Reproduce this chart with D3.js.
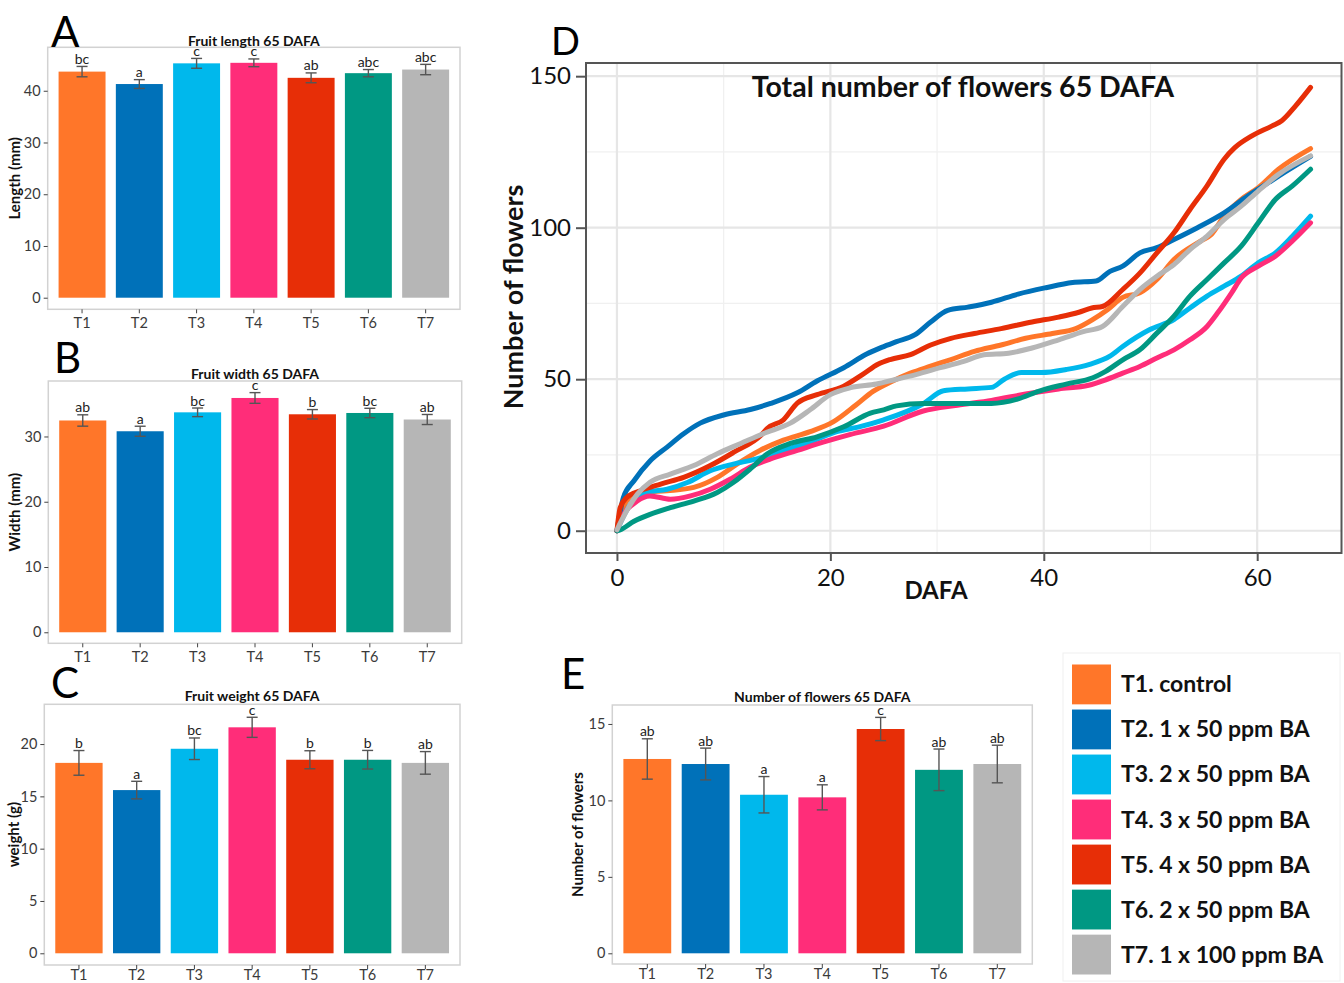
<!DOCTYPE html>
<html>
<head>
<meta charset="utf-8">
<script src="https://cdn.jsdelivr.net/npm/d3@7/dist/d3.min.js"></script>
<style>
  html, body { margin: 0; padding: 0; background: #fff; }
  svg { display: block; font-family: Lato, "Open Sans", sans-serif; }
</style>
</head>
<body>
<svg id="fig" width="1344" height="983"></svg>
<script>
// ---------------- DATA ----------------
const treatments = ["T1", "T2", "T3", "T4", "T5", "T6", "T7"];
const legendLabels = ["T1. control", "T2. 1 x 50 ppm BA", "T3. 2 x 50 ppm BA", "T4. 3 x 50 ppm BA",
                      "T5. 4 x 50 ppm BA", "T6. 2 x 50 ppm BA", "T7. 1 x 100 ppm BA"];
const colors = ["#FF7629", "#0071B9", "#00B8EC", "#FF2D79", "#E72E07", "#009883", "#B6B6B6"];

const lengthMean = [43.7, 41.3, 45.3, 45.4, 42.5, 43.4, 44.1];
const lengthErr = [1.0, 0.85, 0.95, 0.75, 0.95, 0.7, 1.0];
const lengthLetters = ["bc", "a", "c", "c", "ab", "abc", "abc"];
const lengthTicks = [0, 10, 20, 30, 40];

const widthMean = [32.45, 30.8, 33.7, 35.9, 33.4, 33.6, 32.6];
const widthErr = [0.87, 0.77, 0.66, 0.82, 0.72, 0.72, 0.77];
const widthLetters = ["ab", "a", "bc", "c", "b", "bc", "ab"];
const widthTicks = [0, 10, 20, 30];

const weightMean = [18.2, 15.6, 19.55, 21.6, 18.5, 18.5, 18.2];
const weightErr = [1.18, 0.84, 1.03, 0.96, 0.86, 0.89, 1.08];
const weightLetters = ["b", "a", "bc", "c", "b", "b", "ab"];
const weightTicks = [0, 5, 10, 15, 20];

const flowersMean = [12.71, 12.38, 10.37, 10.2, 14.67, 12.0, 12.38];
const flowersErr = [1.32, 1.04, 1.19, 0.82, 0.76, 1.36, 1.23];
const flowersLetters = ["ab", "ab", "a", "a", "c", "ab", "ab"];
const flowersTicks = [0, 5, 10, 15];

const dafaTicks = [0, 20, 40, 60];
const totalTicks = [0, 50, 100, 150];

// cumulative number of flowers vs DAFA  [DAFA, flowers]
const cumT1 = [[0,0],[0.3,3],[0.9,9.8],[2.5,12.6],[4.7,13.2],[7.2,14.3],[9.4,17.6],[11.25,22],[13.4,26.5],[15.6,29.9],[18.1,32.7],[20.3,36],[22.4,41.5],[24,46],[25.6,49],[27.5,52],[29.4,54.3],[31.3,56.5],[33.5,59.2],[36,61.3],[38.3,63.5],[40.8,65.1],[43,66.7],[44.5,69.5],[46,73],[47.4,77],[49,78.5],[50.6,82.9],[52.2,89.5],[54.7,95.6],[55.7,97.8],[56.9,103.8],[58.5,109.3],[60.1,113.2],[62,119.3],[65,126.1]];
const cumT2 = [[0,0],[0.6,10.9],[1.6,16.5],[3.1,23],[4.7,27.6],[6.25,32],[7.8,35.5],[10,38.2],[12.5,40],[14.4,42],[16.9,45.5],[18.75,49.4],[21.25,53.8],[23.4,58.3],[24.8,60.5],[26.2,62.4],[27.9,64.6],[29.4,68.9],[31,72.7],[32.9,73.8],[35.1,75.4],[37.6,78.1],[40.2,80.2],[42.7,81.9],[44.9,82.4],[46.2,85.6],[47.4,87.3],[49,91.7],[50.6,93.4],[52.2,96.1],[54.4,100],[56.9,104.9],[59.1,110.4],[60.1,112.7],[62,117],[65,123.5]];
const cumT3 = [[0,0],[0.5,4],[1.25,8.7],[2.8,12.6],[4.7,13.7],[6.6,15.9],[8.75,19.8],[10.9,22],[13.1,23.7],[15.6,26.5],[18.1,29.3],[20.6,32.7],[22.6,34.2],[25,36.6],[28.7,41.9],[30.6,46.2],[32.9,46.8],[35.1,47.3],[36.3,50],[37.9,52.2],[39.8,52.2],[42.1,53.2],[44.3,54.9],[46.2,57.6],[47.4,60.8],[49.9,66.3],[52.2,69.7],[53.7,73.5],[55.3,77.4],[56.9,80.7],[58.5,84],[60.1,88.4],[61.7,91.7],[63.3,97.2],[65,103.8]];
const cumT4 = [[0,0],[0.3,3],[1.9,9.8],[3.1,11.5],[5,10.4],[6.9,11.5],[8.75,13.7],[10.6,17],[12.5,21],[14.4,23.7],[16.9,26.5],[19.4,29.3],[21.9,31.8],[25,34.5],[28.7,39.5],[31.9,41.4],[35.1,43],[38.3,45.1],[41.4,46.8],[44.2,48],[45.8,49.8],[47.4,52],[49,54.2],[50.6,57],[52.2,59.7],[53.7,63],[55.3,67.4],[56.3,71.9],[57.6,78.5],[58.5,83.4],[60.1,87.3],[61.7,90.6],[63.3,95.6],[65,101.6]];
const cumT5 = [[0,0],[0.3,7.6],[0.9,10.9],[2.2,13.2],[4.1,15.4],[6.25,17.6],[8.75,21.5],[11,26],[13.5,31.5],[14.1,33.8],[15.6,36.6],[16.9,42.1],[18.75,44.9],[21.25,47.7],[23,51.5],[24.5,55],[25.6,56.5],[27.5,58.1],[29.4,61.3],[31.3,63.5],[33.5,65.1],[36,66.7],[38.9,68.9],[41.4,70.5],[43.3,72.1],[44.5,73.5],[45.5,74],[47.4,79.6],[49,85],[50.6,91.7],[52.2,98.3],[53.7,106],[55.3,113.8],[56.9,122.6],[57.9,126.4],[59.5,130.3],[61.4,133.6],[62.3,135.3],[63.6,140.2],[65,146.3]];
const cumT6 = [[0,0],[0.3,0.3],[1.6,3.1],[3.1,5.4],[5,7.6],[7.2,9.8],[9.4,12.6],[10.9,15.9],[12.5,20.4],[14.1,25.4],[16.25,28.8],[18.75,31],[21.25,34.3],[23.75,38.8],[25,39.9],[26.2,41.2],[28.7,42],[31.3,42],[33.5,42],[35.1,42],[37.6,43.5],[39.5,46],[42.1,48.4],[44.6,50.5],[45.8,52.6],[47.4,56.4],[49,59.7],[50.6,65.2],[52.2,70.8],[53.7,77.4],[55.3,82.9],[56.9,88.4],[58.5,93.9],[60.1,101.6],[61.7,109.3],[63.3,113.8],[65,119.3]];
const cumT7 = [[0,0.3],[0.9,6.5],[1.9,12],[3.1,16],[5,18.7],[7.2,21.5],[9.4,25.4],[11.6,28.8],[13.75,32.1],[16.25,35.5],[18.1,39.9],[20,44.9],[21.9,47.2],[24.3,48.4],[26.2,50],[28.1,51.6],[30.3,53.8],[32.5,55.9],[34.4,58.1],[36.7,58.6],[38.9,60.3],[41.4,63],[43.7,65.7],[45.5,67.4],[47.4,74],[49,79.6],[50.6,84],[52.2,87.8],[53.7,92.8],[55.3,97.2],[56.9,102.7],[58.5,107.1],[60.1,112.1],[62,117.6],[65,123.7]];
const cumSeries = [cumT1, cumT2, cumT3, cumT4, cumT5, cumT6, cumT7];

// ---------------- DRAW ----------------
const svg = d3.select("#fig");

function barPanel(cfg) {
  const g = svg.append("g");
  const x = d3.scaleBand().domain(treatments).range([cfg.left, cfg.right])
    .paddingInner(0.18).paddingOuter(0.19);
  const y = d3.scaleLinear().domain(cfg.yDomain).range([cfg.bottom, cfg.top]);

  // panel border
  g.append("rect").attr("x", cfg.left).attr("y", cfg.top)
    .attr("width", cfg.right - cfg.left).attr("height", cfg.bottom - cfg.top)
    .attr("fill", "none").attr("stroke", "#d2d2d2").attr("stroke-width", 1.5);

  // bars
  g.selectAll("rect.bar").data(cfg.values).join("rect").attr("class", "bar")
    .attr("x", (d, i) => x(treatments[i]))
    .attr("width", x.bandwidth())
    .attr("y", d => y(d))
    .attr("height", d => y(0) - y(d))
    .attr("fill", (d, i) => colors[i]);

  // error bars
  const cap = 5.5;
  cfg.values.forEach((v, i) => {
    const cx = x(treatments[i]) + x.bandwidth() / 2;
    const y1 = y(v + cfg.errors[i]), y0 = y(v - cfg.errors[i]);
    g.append("line").attr("x1", cx).attr("x2", cx).attr("y1", y1).attr("y2", y0)
      .attr("stroke", "#555").attr("stroke-width", 1.4);
    [y1, y0].forEach(yy => g.append("line").attr("x1", cx - cap).attr("x2", cx + cap)
      .attr("y1", yy).attr("y2", yy).attr("stroke", "#555").attr("stroke-width", 1.4));
    g.append("text").attr("x", cx).attr("y", y1 - 2.5).attr("text-anchor", "middle")
      .attr("font-size", 14).attr("fill", "#222").text(cfg.letters[i]);
  });

  // y axis
  const ya = d3.axisLeft(y).tickValues(cfg.ticks).tickSize(4).tickPadding(3);
  const yg = g.append("g").attr("transform", `translate(${cfg.left},0)`).call(ya);
  yg.select(".domain").remove();
  yg.selectAll("line").attr("stroke", "#444");
  yg.selectAll("text").attr("font-size", 14.5).attr("fill", "#3a3a3a").attr("font-family", "Lato, sans-serif");

  // x axis
  const xa = d3.axisBottom(x).tickSize(4).tickPadding(cfg.xPad);
  const xg = g.append("g").attr("transform", `translate(0,${cfg.bottom})`).call(xa);
  xg.select(".domain").remove();
  xg.selectAll("line").attr("stroke", "#444");
  xg.selectAll("text").attr("font-size", 14.5).attr("fill", "#3a3a3a").attr("font-family", "Lato, sans-serif");

  // title
  g.append("text").attr("x", (cfg.left + cfg.right) / 2).attr("y", cfg.titleY)
    .attr("text-anchor", "middle").attr("font-size", 14).attr("font-weight", "bold")
    .attr("fill", "#111").text(cfg.title);

  // y label
  g.append("text").attr("transform", `translate(${cfg.ylabelX},${(cfg.top + cfg.bottom) / 2}) rotate(-90)`)
    .attr("text-anchor", "middle").attr("font-size", 15).attr("font-weight", "bold")
    .attr("fill", "#111").text(cfg.ylabel);

  // panel letter
  g.append("text").attr("x", cfg.letterX).attr("y", cfg.letterY)
    .attr("font-size", 42).attr("fill", "#000").text(cfg.letter);
}

barPanel({ left: 47.7, right: 460, top: 47.3, bottom: 309.3, yDomain: [-2.24, 48.4],
  ticks: lengthTicks, values: lengthMean, errors: lengthErr, letters: lengthLetters,
  title: "Fruit length 65 DAFA", titleY: 46, ylabel: "Length (mm)", ylabelX: 20, xPad: 4,
  letter: "A", letterX: 51, letterY: 47 });

barPanel({ left: 48.3, right: 461.7, top: 381, bottom: 643.3, yDomain: [-1.69, 38.5],
  ticks: widthTicks, values: widthMean, errors: widthErr, letters: widthLetters,
  title: "Fruit width 65 DAFA", titleY: 379, ylabel: "Width (mm)", ylabelX: 20, xPad: 4,
  letter: "B", letterX: 54, letterY: 373 });

barPanel({ left: 44.3, right: 460, top: 704.3, bottom: 965, yDomain: [-1.12, 23.8],
  ticks: weightTicks, values: weightMean, errors: weightErr, letters: weightLetters,
  title: "Fruit weight 65 DAFA", titleY: 701, ylabel: "weight (g)", ylabelX: 19, xPad: 1,
  letter: "C", letterX: 51, letterY: 698 });

barPanel({ left: 612.3, right: 1032.3, top: 705, bottom: 964, yDomain: [-0.7, 16.24],
  ticks: flowersTicks, values: flowersMean, errors: flowersErr, letters: flowersLetters,
  title: "Number of flowers 65 DAFA", titleY: 702, ylabel: "Number of flowers", ylabelX: 583, xPad: 1,
  letter: "E", letterX: 561, letterY: 689 });

// ---------------- Panel D ----------------
(function () {
  const L = 586, R = 1341.5, T = 63, B = 553;
  const x = d3.scaleLinear().domain([-2.9, 67.9]).range([L, R]);
  const y = d3.scaleLinear().domain([-7.35, 154.35]).range([B, T]);
  const g = svg.append("g");
  g.append("rect").attr("x", L).attr("y", T).attr("width", R - L).attr("height", B - T).attr("fill", "#fff");

  // minor grid
  [10, 30, 50].forEach(v => g.append("line").attr("x1", x(v)).attr("x2", x(v)).attr("y1", T).attr("y2", B)
    .attr("stroke", "#f0f0f0").attr("stroke-width", 1.2));
  [25, 75, 125].forEach(v => g.append("line").attr("y1", y(v)).attr("y2", y(v)).attr("x1", L).attr("x2", R)
    .attr("stroke", "#f0f0f0").attr("stroke-width", 1.2));
  // major grid
  dafaTicks.forEach(v => g.append("line").attr("x1", x(v)).attr("x2", x(v)).attr("y1", T).attr("y2", B)
    .attr("stroke", "#e6e6e6").attr("stroke-width", 2.2));
  totalTicks.forEach(v => g.append("line").attr("y1", y(v)).attr("y2", y(v)).attr("x1", L).attr("x2", R)
    .attr("stroke", "#e6e6e6").attr("stroke-width", 2.2));

  const line = d3.line().x(d => x(d[0])).y(d => y(d[1])).curve(d3.curveMonotoneX);
  cumSeries.forEach((s, i) => {
    g.append("path").datum(s).attr("d", line).attr("fill", "none")
      .attr("stroke", colors[i]).attr("stroke-width", 5)
      .attr("stroke-linejoin", "round").attr("stroke-linecap", "round");
  });

  g.append("rect").attr("x", L).attr("y", T).attr("width", R - L).attr("height", B - T)
    .attr("fill", "none").attr("stroke", "#555").attr("stroke-width", 2);

  const ya = d3.axisLeft(y).tickValues(totalTicks).tickSize(10).tickPadding(5);
  const yg = g.append("g").attr("transform", `translate(${L},0)`).call(ya);
  yg.select(".domain").remove();
  yg.selectAll("line").attr("stroke", "#555").attr("stroke-width", 2);
  yg.selectAll("text").attr("font-size", 24).attr("fill", "#111").attr("font-family", "Lato, sans-serif");

  const xa = d3.axisBottom(x).tickValues(dafaTicks).tickSize(8).tickPadding(8);
  const xg = g.append("g").attr("transform", `translate(0,${B})`).call(xa);
  xg.select(".domain").remove();
  xg.selectAll("line").attr("stroke", "#555").attr("stroke-width", 2);
  xg.selectAll("text").attr("font-size", 24).attr("fill", "#111").attr("font-family", "Lato, sans-serif");

  g.append("text").attr("x", 936).attr("y", 599).attr("text-anchor", "middle")
    .attr("font-size", 24).attr("font-weight", "bold").attr("fill", "#111").text("DAFA");
  g.append("text").attr("transform", `translate(523,297) rotate(-90)`).attr("text-anchor", "middle")
    .attr("font-size", 27).attr("font-weight", "bold").attr("fill", "#111").text("Number of flowers");
  g.append("text").attr("x", 963).attr("y", 97).attr("text-anchor", "middle")
    .attr("font-size", 28.5).attr("font-weight", "bold").attr("fill", "#111").text("Total number of flowers 65 DAFA");
  g.append("text").attr("x", 551).attr("y", 55).attr("font-size", 38).attr("fill", "#000").text("D");
})();

// ---------------- Legend ----------------
(function () {
  const g = svg.append("g");
  g.append("rect").attr("x", 1063).attr("y", 653).attr("width", 277).attr("height", 328)
    .attr("fill", "none").attr("stroke", "#f0f0f0").attr("stroke-width", 1);
  const ly = d3.scaleBand().domain(legendLabels).range([664.5, 974.5]).paddingInner(0.115);
  legendLabels.forEach((lab, i) => {
    g.append("rect").attr("x", 1072).attr("y", ly(lab)).attr("width", 39).attr("height", ly.bandwidth())
      .attr("fill", colors[i]);
    g.append("text").attr("x", 1121).attr("y", ly(lab) + ly.bandwidth() / 2 + 8)
      .attr("font-size", 23).attr("font-weight", "bold").attr("fill", "#111").text(lab);
  });
})();
</script>
</body>
</html>
